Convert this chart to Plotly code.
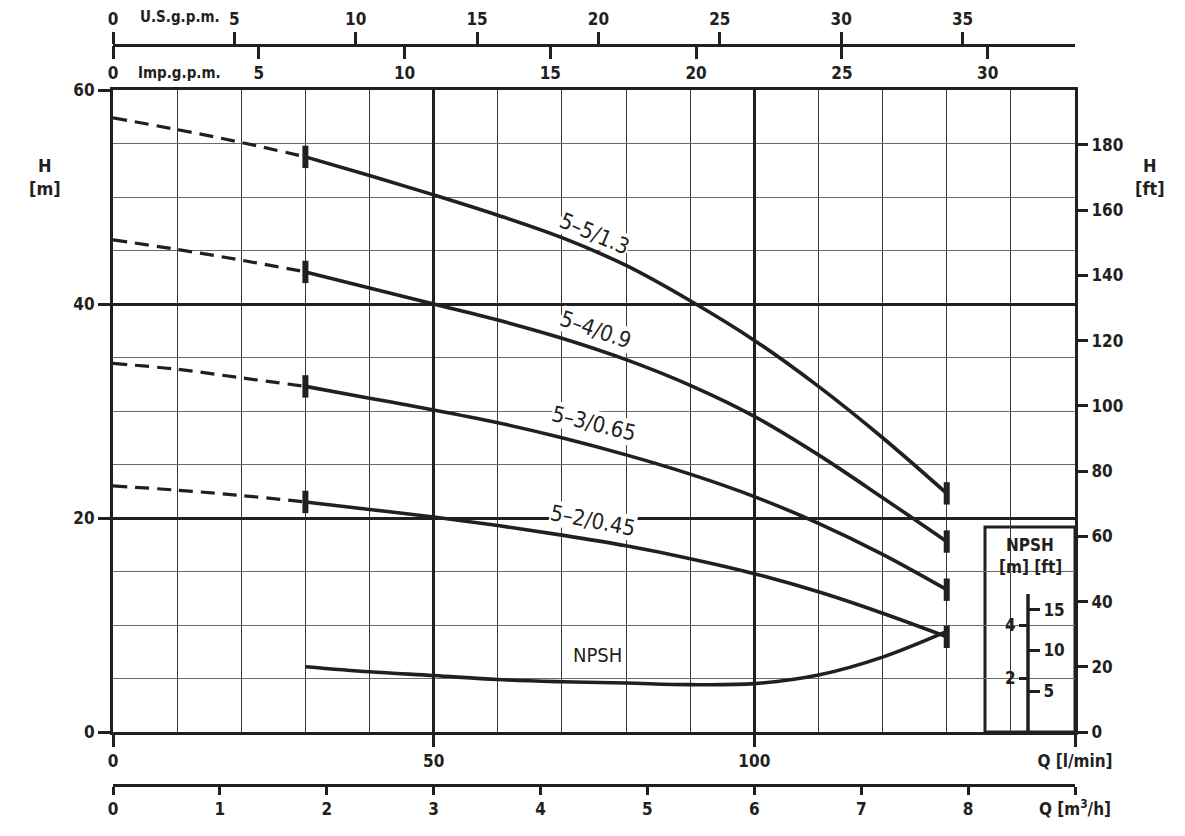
import plotly.graph_objects as go

# ---------------- data ----------------
q_dash = [0, 10, 20, 30]
q_solid = [30, 40, 50, 60, 70, 80, 90, 100, 110, 120, 130]

h55_dash = [57.4, 56.3, 55.1, 53.75]
h55 = [53.75, 52.0, 50.2, 48.3, 46.2, 43.6, 40.3, 36.6, 32.3, 27.5, 22.3]
h54_dash = [46.0, 45.1, 44.1, 43.0]
h54 = [43.0, 41.5, 40.0, 38.5, 36.8, 34.8, 32.4, 29.5, 25.9, 21.9, 17.8]
h53_dash = [34.45, 33.9, 33.1, 32.3]
h53 = [32.3, 31.2, 30.1, 28.9, 27.5, 25.9, 24.1, 22.0, 19.5, 16.6, 13.3]
h52_dash = [23.0, 22.6, 22.1, 21.5]
h52 = [21.5, 20.8, 20.1, 19.3, 18.4, 17.4, 16.2, 14.8, 13.1, 11.1, 8.9]
npsh = [2.44, 2.25, 2.11, 1.96, 1.88, 1.83, 1.77, 1.81, 2.13, 2.8, 3.76]

curve_names = ["5\u20135/1.3", "5\u20134/0.9", "5\u20133/0.65", "5\u20132/0.45"]
label_q = [75.0, 75.2, 75.0, 74.8]
label_h = [46.6, 37.6, 28.8, 19.8]
label_angle = [23, 19, 14, 11]

x_ticks = [0, 50, 100, 150]
x_ticktext = ["0", "50", "100", "Q [l/min]"]
y_ticks = [0, 20, 40, 60]
ft_ticks = [0, 20, 40, 60, 80, 100, 120, 140, 160, 180]
usgpm_ticks = [0, 5, 10, 15, 20, 25, 30, 35]
impgpm_ticks = [0, 5, 10, 15, 20, 25, 30]
m3h_ticks = [0, 1, 2, 3, 4, 5, 6, 7, 8, 9]
m3h_text = ["0", "1", "2", "3", "4", "5", "6", "7", "8", "Q [m<sup>3</sup>/h]"]
npsh_m_ticks = [2, 4]
npsh_ft_ticks = [5, 10, 15]

# ---------------- style ----------------
INK = "#231f20"
FONT = "DejaVu Sans Condensed, DejaVu Sans, sans-serif"
QMAX = 150.0
HMAX = 60.0
M_TO_FT = 3.28084
LPM_PER_USGPM = 3.785
LPM_PER_IMPGPM = 4.546
M3H_PER_LPM = 0.06

# ---------------- geometry ----------------
W, Hh = 1185, 836
ML, MR, MT, MB = 113, 110, 10, 10
ph = Hh - MT - MB
def py(ypx):
    return (Hh - MB - ypx) / ph
def px(xpx):
    return (xpx - ML) / (W - ML - MR)

y_bot, y_top = py(732), py(90)
npsh_px_per_m = 26.75
npsh_range = (732 - 90) / npsh_px_per_m
inset_top_m = (732 - 594) / npsh_px_per_m
inset_x = px(1028)

fig = go.Figure()

curves = [(h55_dash, h55), (h54_dash, h54), (h53_dash, h53), (h52_dash, h52)]
for (hd, hs) in curves:
    fig.add_trace(go.Scatter(x=q_dash, y=hd, mode="lines", line=dict(color=INK, width=3.2, dash="14px,8px", shape="spline"),
                             hoverinfo="skip", showlegend=False))
    fig.add_trace(go.Scatter(x=q_solid, y=hs, mode="lines", line=dict(color=INK, width=3.6, shape="spline", smoothing=1.0),
                             hoverinfo="skip", showlegend=False))
    fig.add_trace(go.Scatter(x=[q_solid[0], q_solid[-1]], y=[hs[0], hs[-1]], mode="markers",
                             marker=dict(symbol="line-ns", size=16, line=dict(color=INK, width=6)),
                             hoverinfo="skip", showlegend=False))

# NPSH curve on its own (metre) scale
fig.add_trace(go.Scatter(x=q_solid, y=npsh, mode="lines", yaxis="y3",
                         line=dict(color=INK, width=3.6, shape="spline", smoothing=1.0),
                         hoverinfo="skip", showlegend=False))

# empty traces so that the secondary scales are drawn
for xa, ya in [("x", "y2"), ("x3", "y"), ("x4", "y"), ("x5", "y"), ("x", "y5")]:
    fig.add_trace(go.Scatter(x=[None], y=[None], xaxis=xa, yaxis=ya, mode="lines",
                             hoverinfo="skip", showlegend=False))

tickfont = dict(family=FONT, size=17, color=INK, weight="bold")
common = dict(automargin=False, fixedrange=True, zeroline=False, visible=True)

TOP_LINE = 45
BOT_LINE = 785

fig.update_layout(
    template="none",
    width=W, height=Hh,
    margin=dict(l=ML, r=MR, t=MT, b=MB, autoexpand=False),
    paper_bgcolor="white", plot_bgcolor="white",
    font=dict(family=FONT, color=INK, size=17),
    hovermode=False,
    xaxis=dict(range=[0, QMAX], domain=[0, 1], anchor="y",
               tickmode="array", tickvals=x_ticks, ticktext=x_ticktext,
               ticks="outside", ticklen=12, tickwidth=3, tickcolor=INK,
               showline=True, linewidth=3, linecolor=INK, mirror=True,
               showgrid=True, gridwidth=3, gridcolor=INK,
               minor=dict(dtick=10, tick0=0, showgrid=True, gridwidth=1, gridcolor="#3a3a3a", ticks=""),
               tickfont=tickfont, **common),
    yaxis=dict(range=[0, HMAX], domain=[y_bot, y_top], anchor="x",
               tickmode="array", tickvals=y_ticks,
               ticks="outside", ticklen=12, tickwidth=3, tickcolor=INK,
               showline=True, linewidth=3, linecolor=INK, mirror=True,
               showgrid=True, gridwidth=3, gridcolor=INK,
               minor=dict(dtick=5, tick0=0, showgrid=True, gridwidth=1, gridcolor="#6a6a6a", ticks=""),
               tickfont=tickfont, **common),
    yaxis2=dict(range=[0, HMAX * M_TO_FT], overlaying="y", side="right", anchor="x",
                tickmode="array", tickvals=ft_ticks,
                ticks="outside", ticklen=12, tickwidth=3, tickcolor=INK,
                showline=False, showgrid=False, tickfont=tickfont, **common),
    # NPSH [m] scale (inset)
    yaxis3=dict(range=[0, npsh_range], overlaying="y", anchor="free", position=inset_x, side="left",
                tickmode="array", tickvals=npsh_m_ticks,
                ticks="outside", ticklen=9, tickwidth=3, tickcolor=INK,
                showline=False, showgrid=False, tickfont=tickfont, **common),
    # NPSH [ft] scale (inset)
    yaxis5=dict(range=[0, npsh_range * M_TO_FT], overlaying="y", anchor="free", position=inset_x, side="right",
                tickmode="array", tickvals=npsh_ft_ticks,
                ticks="outside", ticklen=11, tickwidth=3, tickcolor=INK,
                showline=False, showgrid=False, tickfont=tickfont, **common),
    xaxis3=dict(range=[0, QMAX / LPM_PER_USGPM], overlaying="x", anchor="free", position=py(TOP_LINE), side="top",
                tickmode="array", tickvals=usgpm_ticks,
                ticks="outside", ticklen=12, tickwidth=3, tickcolor=INK,
                showline=True, linewidth=3, linecolor=INK, showgrid=False,
                tickfont=tickfont, **common),
    xaxis4=dict(range=[0, QMAX / LPM_PER_IMPGPM], overlaying="x", anchor="free", position=py(TOP_LINE), side="bottom",
                tickmode="array", tickvals=impgpm_ticks,
                ticks="outside", ticklen=13, tickwidth=3, tickcolor=INK,
                showline=False, showgrid=False,
                tickfont=tickfont, **common),
    xaxis5=dict(range=[0, QMAX * M3H_PER_LPM], overlaying="x", anchor="free", position=py(BOT_LINE), side="bottom",
                tickmode="array", tickvals=m3h_ticks, ticktext=m3h_text,
                ticks="outside", ticklen=8, tickwidth=3, tickcolor=INK,
                showline=True, linewidth=3, linecolor=INK, showgrid=False,
                tickfont=tickfont, **common),
)

# inset box for NPSH scale, and the short spine of the inset scale
fig.add_shape(type="rect", xref="paper", yref="paper", x0=px(985), x1=1.0, y0=y_bot, y1=py(527),
              fillcolor="white", line=dict(color=INK, width=3), layer="between")
fig.add_shape(type="line", xref="paper", yref="y3", x0=inset_x, x1=inset_x, y0=0, y1=inset_top_m,
              line=dict(color=INK, width=3.5), layer="above")

bold = dict(family=FONT, size=18, color=INK, weight="bold")
annots = []
for name, qx, hy, ang in zip(curve_names, label_q, label_h, label_angle):
    annots.append(dict(x=qx, y=hy, xref="x", yref="y", text=name, showarrow=False, textangle=ang,
                       xanchor="center", yanchor="middle",
                       font=dict(family=FONT, size=22, color=INK), bgcolor="white", borderpad=0))
def pa(x, y, text, font, xanchor="center"):
    return dict(x=px(x), y=py(y), xref="paper", yref="paper", text=text, showarrow=False,
                xanchor=xanchor, yanchor="middle", font=font)
annots += [
    dict(x=75.6, y=7.2, xref="x", yref="y", text="NPSH", showarrow=False, xanchor="center", yanchor="middle",
         font=dict(family=FONT, size=20, color=INK)),
    pa(45, 177, "H<br>[m]", bold),
    pa(1150, 177, "H<br>[ft]", bold),
    pa(138, 17, "U.S.g.p.m.", dict(family=FONT, size=15, color=INK, weight="bold"), "left"),
    pa(136, 73, "Imp.g.p.m.", dict(family=FONT, size=15, color=INK, weight="bold"), "left"),
    pa(1030, 545, "NPSH", dict(family=FONT, size=17, color=INK, weight="bold")),
    pa(1030, 567, "[m] [ft]", dict(family=FONT, size=17, color=INK, weight="bold")),
]
fig.update_layout(annotations=annots)

fig.write_html("out.html", include_plotlyjs=True, config={"displayModeBar": False},
               post_script="document.body.style.margin='0';")
